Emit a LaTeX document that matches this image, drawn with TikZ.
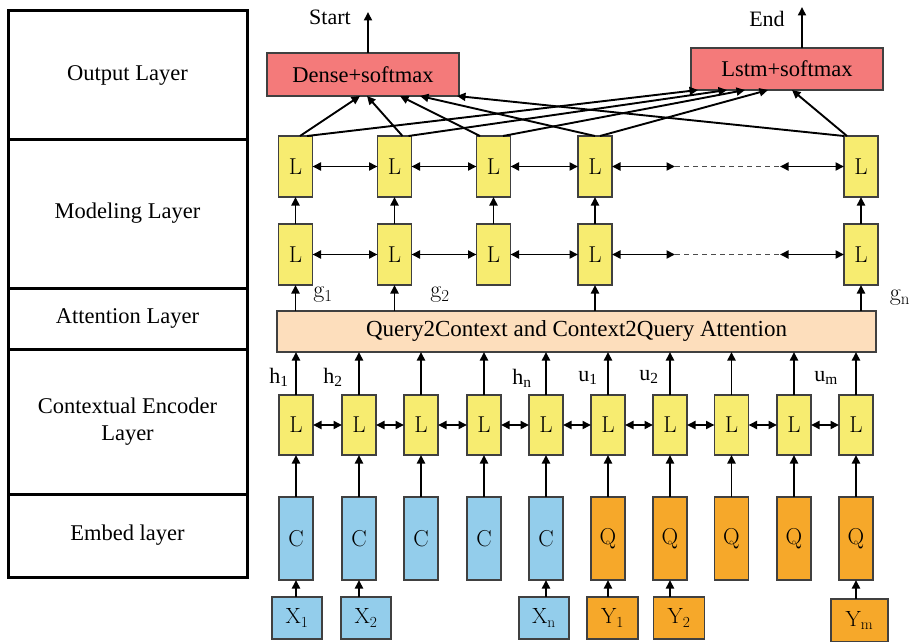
\documentclass[tikz,border=0pt]{standalone}
\usepackage{fontspec}
\newfontfamily\tnr{Liberation Serif}
\usetikzlibrary{arrows.meta}
\definecolor{cyellow}{RGB}{247,236,112}
\definecolor{cblue}{RGB}{147,205,235}
\definecolor{corange}{RGB}{246,168,42}
\definecolor{cpeach}{RGB}{253,222,188}
\definecolor{cred}{RGB}{244,122,122}
\begin{document}
\begin{tikzpicture}[x=1pt,y=-1pt,
  every node/.style={inner sep=0pt, outer sep=0pt},
  arr/.style={line width=1.9pt, -{Triangle[length=8.5pt,width=8pt]}},
  darr/.style={line width=1.9pt, {Triangle[length=8.5pt,width=8pt]}-{Triangle[length=8.5pt,width=8pt]}},
  layerbox/.style={draw=black, line width=3pt, minimum width=239pt, align=center, font=\tnr\fontsize{22.5}{27}\selectfont},
  cell/.style={draw=black!75, line width=1.2pt, minimum width=34pt},
  lcell/.style={cell, fill=cyellow, font=\fontsize{23}{26}\selectfont},
  ccell/.style={cell, fill=cblue, minimum height=83pt, font=\fontsize{23}{26}\selectfont},
  qcell/.style={cell, fill=corange, minimum height=83pt, font=\fontsize{23}{26}\selectfont},
  xin/.style={cell, fill=cblue, minimum width=50pt, minimum height=42pt, font=\fontsize{22}{24}\selectfont},
  yin/.style={cell, fill=corange, minimum width=51pt, minimum height=42pt, font=\fontsize{22}{24}\selectfont},
  outbox/.style={cell, fill=cred, minimum width=192pt, font=\tnr\fontsize{22.5}{26}\selectfont},
  tlabel/.style={font=\tnr\fontsize{22}{24}\selectfont},
  glabel/.style={font=\fontsize{24}{26}\selectfont}
]
\useasboundingbox (0,0) rectangle (914,642);
\fill[white] (0,0) rectangle (914,642);

% left column
\node[layerbox, minimum height=128pt] (Lout) at (127.5,75) {Output Layer};
\node[layerbox, minimum height=149pt] (Lmod) at (127.5,213.5) {Modeling Layer};
\node[layerbox, minimum height=61pt] (Latt) at (127.5,318.5) {Attention Layer};
\node[layerbox, minimum height=145pt] (Lctx) at (127.5,421.5) {Contextual Encoder\\Layer};
\node[layerbox, minimum height=83pt] (Lemb) at (127.5,535.5) {Embed layer};

% output
\node[outbox, minimum height=43pt] (D) at (363,74.5) {Dense+softmax};
\node[outbox, minimum height=42pt] (S) at (787,69) {Lstm+softmax};
\coordinate (stt) at (368,12);
\coordinate (ent) at (802,7);
\draw[arr] (D.north -| stt) -- (stt);
\draw[arr] (S.north -| ent) -- (ent);
\node[tlabel] (start) at (330,17) {Start};
\node[tlabel] (end) at (767,19) {End};

% modeling layer
\foreach \i/\x in {1/295.5,2/394.5,3/493.5,4/595,5/861}{
  \node[lcell, minimum height=61pt] (M\i) at (\x,166.5) {L};
  \node[lcell, minimum height=61pt] (N\i) at (\x,254.5) {L};
  \draw[arr] (N\i) -- (M\i);
}
\foreach \i/\j in {1/2,2/3,3/4}{
  \draw[darr] (M\i) -- (M\j);
  \draw[darr] (N\i) -- (N\j);
}
\coordinate (Ma) at (675,166.5);
\coordinate (Mb) at (780,166.5);
\coordinate (Na) at (675,254.5);
\coordinate (Nb) at (780,254.5);
\draw[darr] (M4) -- (Ma);
\draw[darr] (Mb) -- (M5);
\draw[darr] (N4) -- (Na);
\draw[darr] (Nb) -- (N5);
\draw[black!70, line width=1.6pt, dash pattern=on 5pt off 4pt] (Ma) -- (Mb);
\draw[black!70, line width=1.6pt, dash pattern=on 5pt off 4pt] (Na) -- (Nb);

% attention
\node[cell, fill=cpeach, minimum width=599pt, minimum height=41pt, font=\tnr\fontsize{23}{26}\selectfont] (A) at (576.5,331.5) {Query2Context and Context2Query Attention};
\foreach \i in {1,2,4,5}{
  \draw[arr] (N\i.south |- A.north) -- (N\i.south);
}
\node[glabel] (g1) at (323,295) {g\textsubscript{1}};
\node[glabel] (g2) at (440,295) {g\textsubscript{2}};
\node[glabel] (gn) at (900,298) {g\textsubscript{n}};

% contextual encoder + embed
\foreach \i/\x in {1/296,2/359,3/421,4/484,5/546,6/608,7/670,8/731.5,9/794,10/856}{
  \node[lcell, minimum height=60pt] (E\i) at (\x,425) {L};
  \draw[arr] (E\i) -- (E\i.north |- A.south);
}
\foreach \i/\j in {1/2,2/3,3/4,4/5,5/6,6/7,7/8,8/9,9/10}{
  \draw[darr] (E\i) -- (E\j);
}
\foreach \i/\x in {1/296,2/359,3/421,4/484,5/546}{
  \node[ccell] (C\i) at (\x,538.5) {C};
}
\foreach \i/\x in {6/608,7/670,8/731.5,9/794,10/856}{
  \node[qcell] (C\i) at (\x,538.5) {Q};
}
\foreach \i in {1,...,10}{
  \draw[arr] (C\i) -- (E\i);
}
\node[tlabel] (h1) at (279,377) {h\textsubscript{1}};
\node[tlabel] (h2) at (333,377) {h\textsubscript{2}};
\node[tlabel] (hn) at (522,378) {h\textsubscript{n}};
\node[tlabel] (u1) at (588,378) {u\textsubscript{1}};
\node[tlabel] (u2) at (649,377) {u\textsubscript{2}};
\node[tlabel] (um) at (826,378) {u\textsubscript{m}};

% inputs
\node[xin] (X1) at (297,618) {X\textsubscript{1}};
\node[xin] (X2) at (366,618) {X\textsubscript{2}};
\node[xin] (Xn) at (544,618) {X\textsubscript{n}};
\node[yin] (Y1) at (612.5,618) {Y\textsubscript{1}};
\node[yin] (Y2) at (679,618) {Y\textsubscript{2}};
\node[yin, minimum width=57pt, minimum height=43pt] (Ym) at (859.5,620.5) {Y\textsubscript{m}};
\draw[arr] (C1.south |- X1.north) -- (C1.south);
\draw[arr] (C2.south |- X2.north) -- (C2.south);
\draw[arr] (C5.south |- Xn.north) -- (C5.south);
\draw[arr] (C6.south |- Y1.north) -- (C6.south);
\draw[arr] (C7.south |- Y2.north) -- (C7.south);
\draw[arr] (C10.south |- Ym.north) -- (C10.south);

% output connections
\draw[arr] ([xshift=4.5pt]M1.north) -- ([xshift=-3pt]D.south);
\draw[arr] ([xshift=8pt]M2.north) -- ([xshift=4pt]D.south);
\draw[arr] ([xshift=-13.5pt]M3.north) -- ([xshift=37pt]D.south);
\draw[arr] ([xshift=0pt]M4.north) -- ([xshift=57pt]D.south);
\draw[arr] (M5.north west) -- ([xshift=94pt]D.south);
\draw[arr] ([xshift=11.5pt]M1.north) -- ([xshift=-89pt]S.south);
\draw[arr] ([xshift=14pt]M2.north) -- ([xshift=-60pt]S.south);
\draw[arr] ([xshift=9.5pt]M3.north) -- ([xshift=-42pt]S.south);
\draw[arr] ([xshift=5pt]M4.north) -- ([xshift=-19pt]S.south);
\draw[arr] ([xshift=3pt]M5.north west) -- ([xshift=5pt]S.south);
\end{tikzpicture}
\end{document}
